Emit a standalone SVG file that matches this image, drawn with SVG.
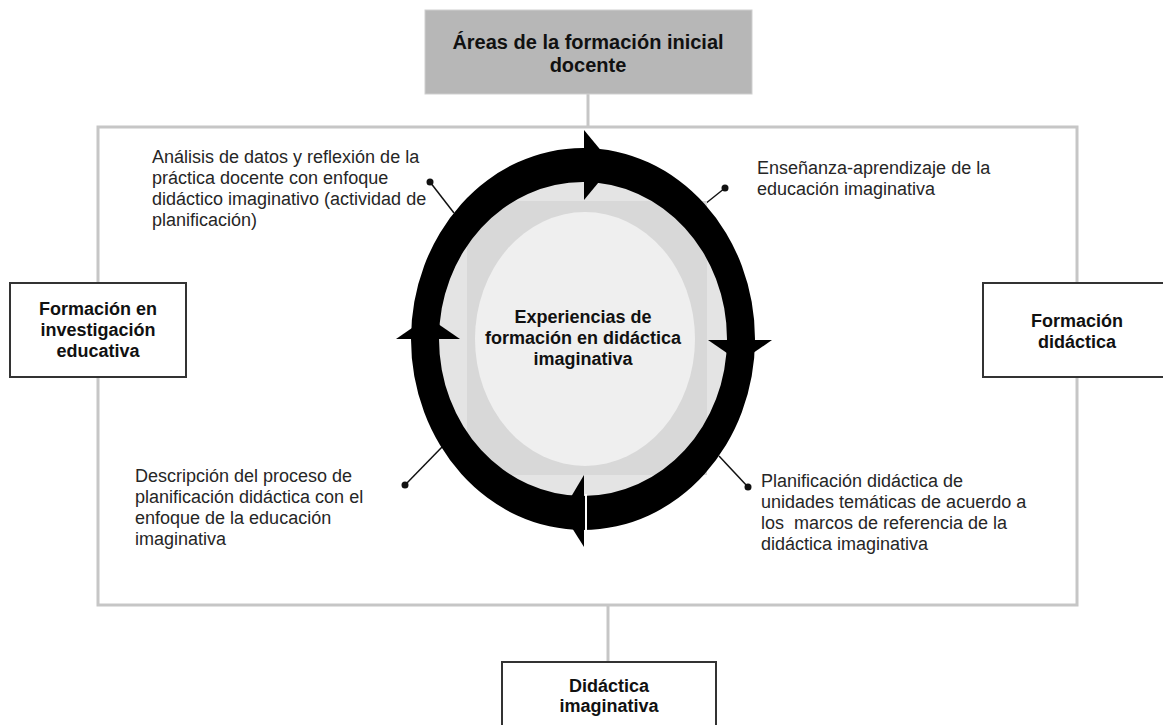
<svg xmlns="http://www.w3.org/2000/svg" width="1163" height="725" viewBox="0 0 1163 725">
<style>
.lbl{font-family:"Liberation Sans",Arial,sans-serif;font-size:18px;fill:#262626}
.b{font-weight:bold;text-anchor:middle;fill:#111}
.t{font-size:20px}
.box{fill:#fff;stroke:#333;stroke-width:2}
.wire{fill:none;stroke:#c6c6c6;stroke-width:3}
.ptr{stroke:#111;stroke-width:1.5}
</style>
<rect width="1163" height="725" fill="#fff"/>
<g id="connectors">
<rect class="wire" x="98" y="127" width="979" height="478"/>
<line class="wire" x1="588" y1="94" x2="588" y2="127"/>
<line class="wire" x1="608" y1="605" x2="608" y2="662"/>
<line class="ptr" x1="430" y1="182" x2="454" y2="213"/>
<circle cx="430" cy="182" r="3.5" fill="#111"/>
<line class="ptr" x1="725" y1="188" x2="705" y2="204"/>
<circle cx="725" cy="188" r="3.5" fill="#111"/>
<line class="ptr" x1="405" y1="485" x2="443" y2="446"/>
<circle cx="405" cy="485" r="3.5" fill="#111"/>
<line class="ptr" x1="748" y1="487" x2="719" y2="456"/>
<circle cx="748" cy="487" r="3.5" fill="#111"/>
</g>
<g id="top">
<rect x="425" y="10" width="327" height="84" fill="#b7b7b7" stroke="#cfcfcf" stroke-width="1"/>
<text class="lbl b t" x="588" y="49">Áreas de la formación inicial</text>
<text class="lbl b t" x="588" y="72">docente</text>
</g>
<g id="left">
<rect class="box" x="10" y="283" width="176" height="94"/>
<text class="lbl b" x="98" y="315">Formación en</text>
<text class="lbl b" x="98" y="336">investigación</text>
<text class="lbl b" x="98" y="357">educativa</text>
</g>
<g id="right">
<rect class="box" x="983" y="283" width="190" height="94"/>
<text class="lbl b" x="1077" y="327">Formación</text>
<text class="lbl b" x="1077" y="348">didáctica</text>
</g>
<g id="bottom">
<rect class="box" x="502" y="662" width="214" height="80"/>
<text class="lbl b" x="609" y="692">Didáctica</text>
<text class="lbl b" x="609" y="712">imaginativa</text>
</g>
<g id="cycle">
<ellipse cx="583" cy="339" rx="150" ry="165" fill="#e4e4e4"/>
<rect x="467" y="201" width="240" height="274" fill="#d8d8d8"/>
<ellipse cx="585" cy="339" rx="110" ry="127" fill="#efefef"/>
<path fill="#000" fill-rule="evenodd" d="M411,339 a172,191 0 1,0 344,0 a172,191 0 1,0 -344,0 Z M439,339 a144,157 0 1,0 288,0 a144,157 0 1,0 -288,0 Z"/>
<polygon points="584,130 584,200 613,165" fill="#000"/>
<polygon points="708,340 772,340 740,362" fill="#000"/>
<polygon points="584,475 584,547 562,512" fill="#000"/>
<polygon points="396,339 460,339 428,317" fill="#000"/>
<line x1="586" y1="494" x2="586" y2="532" stroke="#fff" stroke-width="2"/>
<text class="lbl b" x="583" y="323">Experiencias de</text>
<text class="lbl b" x="583" y="344">formación en didáctica</text>
<text class="lbl b" x="583" y="365">imaginativa</text>
</g>
<g id="note-tl">
<text class="lbl" x="152" y="163">Análisis de datos y reflexión de la</text>
<text class="lbl" x="152" y="184">práctica docente con enfoque</text>
<text class="lbl" x="152" y="205">didáctico imaginativo (actividad de</text>
<text class="lbl" x="152" y="226">planificación)</text>
</g>
<g id="note-tr">
<text class="lbl" x="757" y="174">Enseñanza-aprendizaje de la</text>
<text class="lbl" x="757" y="195">educación imaginativa</text>
</g>
<g id="note-bl">
<text class="lbl" x="135" y="482">Descripción del proceso de</text>
<text class="lbl" x="135" y="503">planificación didáctica con el</text>
<text class="lbl" x="135" y="524">enfoque de la educación</text>
<text class="lbl" x="135" y="545">imaginativa</text>
</g>
<g id="note-br">
<text class="lbl" x="761" y="487">Planificación didáctica de</text>
<text class="lbl" x="761" y="508">unidades temáticas de acuerdo a</text>
<text class="lbl" x="761" y="529" xml:space="preserve">los  marcos de referencia de la</text>
<text class="lbl" x="761" y="550">didáctica imaginativa</text>
</g>
</svg>
